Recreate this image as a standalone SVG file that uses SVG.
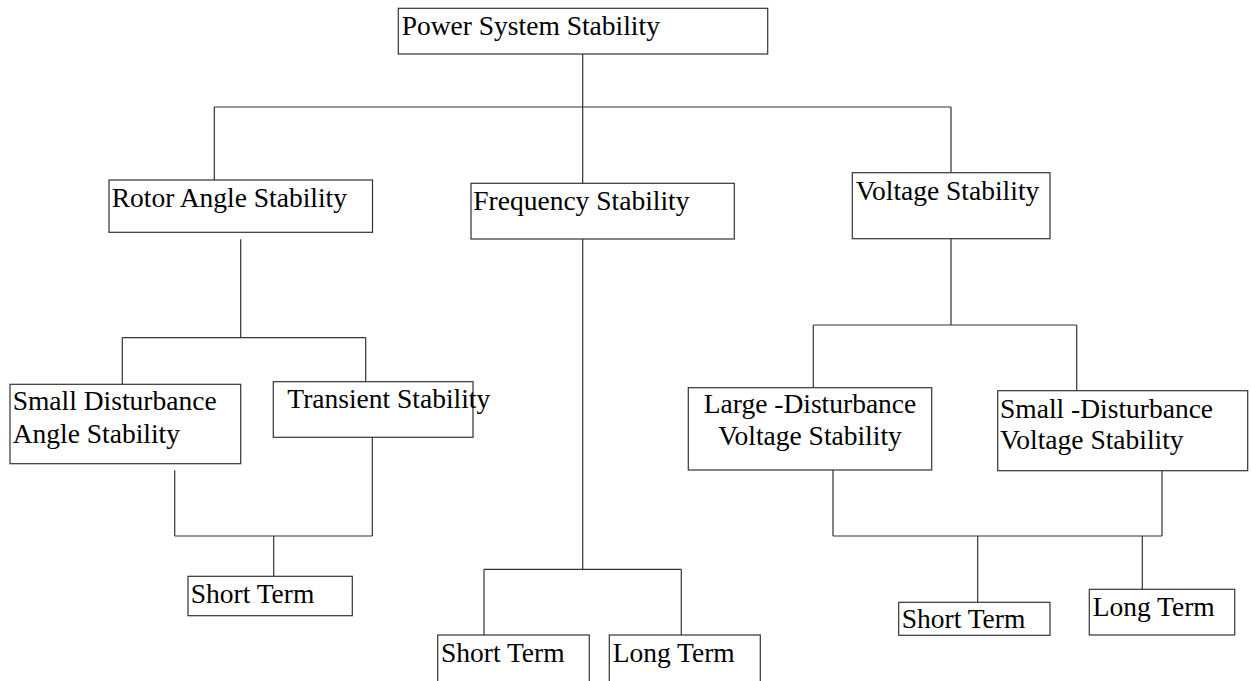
<svg xmlns="http://www.w3.org/2000/svg" width="1251" height="681" viewBox="0 0 1251 681">
<style>
.box{fill:#fff;stroke:#333;stroke-width:1.2}
.t{font-family:"Liberation Serif","Times New Roman",serif;font-size:27.5px;fill:#000}
.c{fill:none;stroke:#333;stroke-width:1.2}
</style>
<rect width="1251" height="681" fill="#fff"/>
<g id="connectors">
<path class="c" d="M582.7 54V107M214.3 107H951M214.3 107V180M582.7 107V183.3M951 107V172.7"/>
<path class="c" d="M240.7 239.3V337.7M122.3 337.7H365.7M122.3 337.7V384.3M365.7 337.7V381.7"/>
<path class="c" d="M174.7 470.3V536M372.3 437.3V536M174.7 536H372.3M273.7 536V576.3"/>
<path class="c" d="M582.7 239V569.3M484 569.3H681.3M484 569.3V635M681.3 569.3V635"/>
<path class="c" d="M951 238.7V325M813.3 325H1076.7M813.3 325V387.7M1076.7 325V390.7"/>
<path class="c" d="M833 470V536M1162 470.7V536M833 536H1162M977.7 536V602.3M1142.3 536V589.3"/>
</g>
<g id="n-power"><rect class="box" x="398.3" y="8.3" width="369.4" height="45.7"/><text class="t" x="401.7" y="35">Power System Stability</text></g>
<g id="n-rotor"><rect class="box" x="109" y="180" width="263.5" height="52.3"/><text class="t" x="111.7" y="207">Rotor Angle Stability</text></g>
<g id="n-freq"><rect class="box" x="471" y="183.3" width="263.3" height="55.7"/><text class="t" x="473.3" y="210">Frequency Stability</text></g>
<g id="n-volt"><rect class="box" x="852.3" y="172.7" width="197.7" height="66"/><text class="t" x="855.7" y="200">Voltage Stability</text></g>
<g id="n-smalldist"><rect class="box" x="10" y="384.3" width="230.7" height="79.4"/><text class="t" x="12.7" y="410">Small Disturbance</text><text class="t" x="12.7" y="442.7">Angle Stability</text></g>
<g id="n-transient"><rect class="box" x="273.3" y="381.7" width="199.7" height="55.6"/><text class="t" x="287.3" y="407.7">Transient Stability</text></g>
<g id="n-angle-short"><rect class="box" x="188" y="576.3" width="164.3" height="39.4"/><text class="t" x="190.7" y="602.7">Short Term</text></g>
<g id="n-freq-short"><rect class="box" x="437.7" y="635" width="151.6" height="60"/><text class="t" x="441" y="661.7">Short Term</text></g>
<g id="n-freq-long"><rect class="box" x="609.3" y="635" width="151" height="60"/><text class="t" x="612.7" y="661.7">Long Term</text></g>
<g id="n-large-volt"><rect class="box" x="688.3" y="387.7" width="243.4" height="82.3"/><text class="t" x="810" y="413.3" text-anchor="middle">Large -Disturbance</text><text class="t" x="810" y="445" text-anchor="middle">Voltage Stability</text></g>
<g id="n-small-volt"><rect class="box" x="997.7" y="390.7" width="250" height="80"/><text class="t" x="1000" y="418.3">Small -Disturbance</text><text class="t" x="1000" y="449.3">Voltage Stability</text></g>
<g id="n-volt-short"><rect class="box" x="898.7" y="602.3" width="151.3" height="33"/><text class="t" x="901.7" y="628.3">Short Term</text></g>
<g id="n-volt-long"><rect class="box" x="1089.3" y="589.3" width="145.4" height="45.7"/><text class="t" x="1092.7" y="615.7">Long Term</text></g>
</svg>
